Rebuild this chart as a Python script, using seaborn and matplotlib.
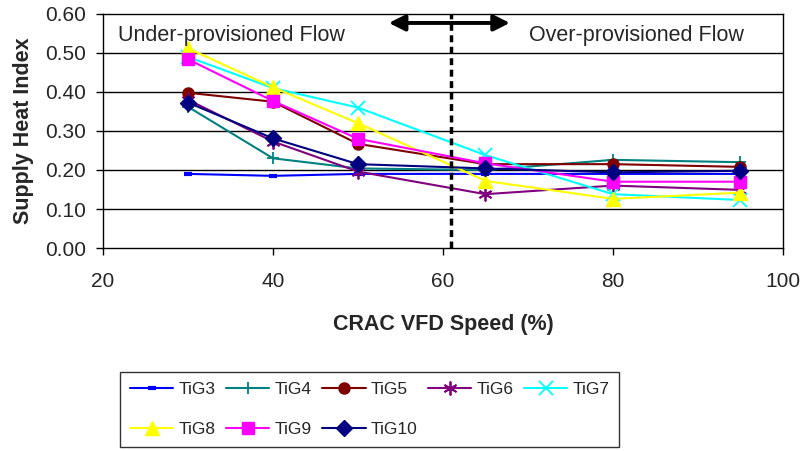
import matplotlib
matplotlib.use("Agg")
import matplotlib.pyplot as plt
import seaborn as sns
import pandas as pd

speed = [30, 40, 50, 65, 80, 95]
series_names = ["TiG3", "TiG4", "TiG5", "TiG6", "TiG7", "TiG8", "TiG9", "TiG10"]
tig3 = [0.190, 0.185, 0.190, 0.190, 0.190, 0.190]
tig4 = [0.362, 0.230, 0.204, 0.200, 0.226, 0.220]
tig5 = [0.398, 0.375, 0.267, 0.215, 0.215, 0.208]
tig6 = [0.380, 0.273, 0.196, 0.138, 0.160, 0.149]
tig7 = [0.490, 0.410, 0.360, 0.238, 0.138, 0.123]
tig8 = [0.512, 0.412, 0.320, 0.172, 0.126, 0.142]
tig9 = [0.484, 0.377, 0.280, 0.217, 0.170, 0.170]
tig10 = [0.373, 0.281, 0.215, 0.204, 0.194, 0.198]
values = [tig3, tig4, tig5, tig6, tig7, tig8, tig9, tig10]

x_ticks = [20, 40, 60, 80, 100]
y_ticks = [0.0, 0.1, 0.2, 0.3, 0.4, 0.5, 0.6]
divider_x = 61
left_label = "Under-provisioned Flow"
right_label = "Over-provisioned Flow"

colors = ["#0000FF", "#008080", "#800000", "#800080", "#00FFFF", "#FFFF00", "#FF00FF", "#000080"]
markers = ["_", "+", "o", (6, 2, 0), "x", "^", "s", "D"]
msizes = [6, 9, 8, 10, 10, 10, 8, 8]
mews = [3, 1.3, 1, 1.3, 1.3, 1, 1, 1]

sns.set_theme(style="white")
plt.rcParams["font.family"] = ["Liberation Sans", "DejaVu Sans"]

rows = []
for name, vals in zip(series_names, values):
    for s, v in zip(speed, vals):
        rows.append({"series": name, "speed": s, "shi": v})
df = pd.DataFrame(rows)

fig = plt.figure(figsize=(8.02, 4.51), dpi=100)
ax = fig.add_axes([0.1284, 0.4501, 0.8479, 0.5189])

for name, c, m, ms, mew in zip(series_names, colors, markers, msizes, mews):
    sub = df[df["series"] == name]
    sns.lineplot(data=sub, x="speed", y="shi", ax=ax, color=c, marker=m,
                 markersize=ms, markeredgewidth=mew, markeredgecolor=c,
                 markerfacecolor=c, linewidth=1.5, label=name, legend=False)

ax.set_xlim(20, 100)
ax.set_ylim(0, 0.6)
ax.set_xticks(x_ticks)
ax.set_yticks(y_ticks)
ax.set_yticklabels([f"{v:.2f}" for v in y_ticks])
for yv in y_ticks[1:-1]:
    ax.axhline(yv, color="black", lw=1, zorder=0)
for sp in ax.spines.values():
    sp.set_color("black")
    sp.set_linewidth(1)
ax.tick_params(axis="both", direction="out", length=5, width=1, color="black",
               labelsize=15, left=True, bottom=True)
ax.tick_params(axis="y", pad=7)
ax.tick_params(axis="x", pad=12)
ax.set_xlabel("CRAC VFD Speed (%)", fontsize=15.5, fontweight="bold", labelpad=17)
ax.set_ylabel("Supply Heat Index", fontsize=15.5, fontweight="bold", labelpad=8)

ax.axvline(divider_x, color="black", lw=2.5, ls=(0, (2, 1.3)), zorder=5)
ax.annotate("", xy=(53.3, 0.577), xytext=(61.3, 0.577),
            arrowprops=dict(arrowstyle="-|>,head_length=0.8,head_width=0.4", color="black", lw=2.8))
ax.annotate("", xy=(68.2, 0.577), xytext=(60.7, 0.577),
            arrowprops=dict(arrowstyle="-|>,head_length=0.8,head_width=0.4", color="black", lw=2.8))
ax.text(21.8, 0.546, left_label, fontsize=15.5, va="center", ha="left")
ax.text(82.8, 0.546, right_label, fontsize=15.5, va="center", ha="center")

handles, labels = ax.get_legend_handles_labels()
# row-major order for a 5-column legend (matplotlib fills column by column)
order = [0, 5, 1, 6, 2, 7, 3, 4]
handles = [handles[i] for i in order]
labels = [labels[i] for i in order]
leg = fig.legend(handles, labels, ncol=5, loc="upper center", bbox_to_anchor=(0.461, 1 - 372 / 451),
                 frameon=True, fancybox=False, fontsize=12.5,
                 handlelength=2.5, columnspacing=0.6, handletextpad=0.3,
                 borderpad=0.55, labelspacing=1.45, borderaxespad=0)
leg.get_frame().set_edgecolor("black")
leg.get_frame().set_linewidth(1)

fig.savefig("out.png", dpi=100)
